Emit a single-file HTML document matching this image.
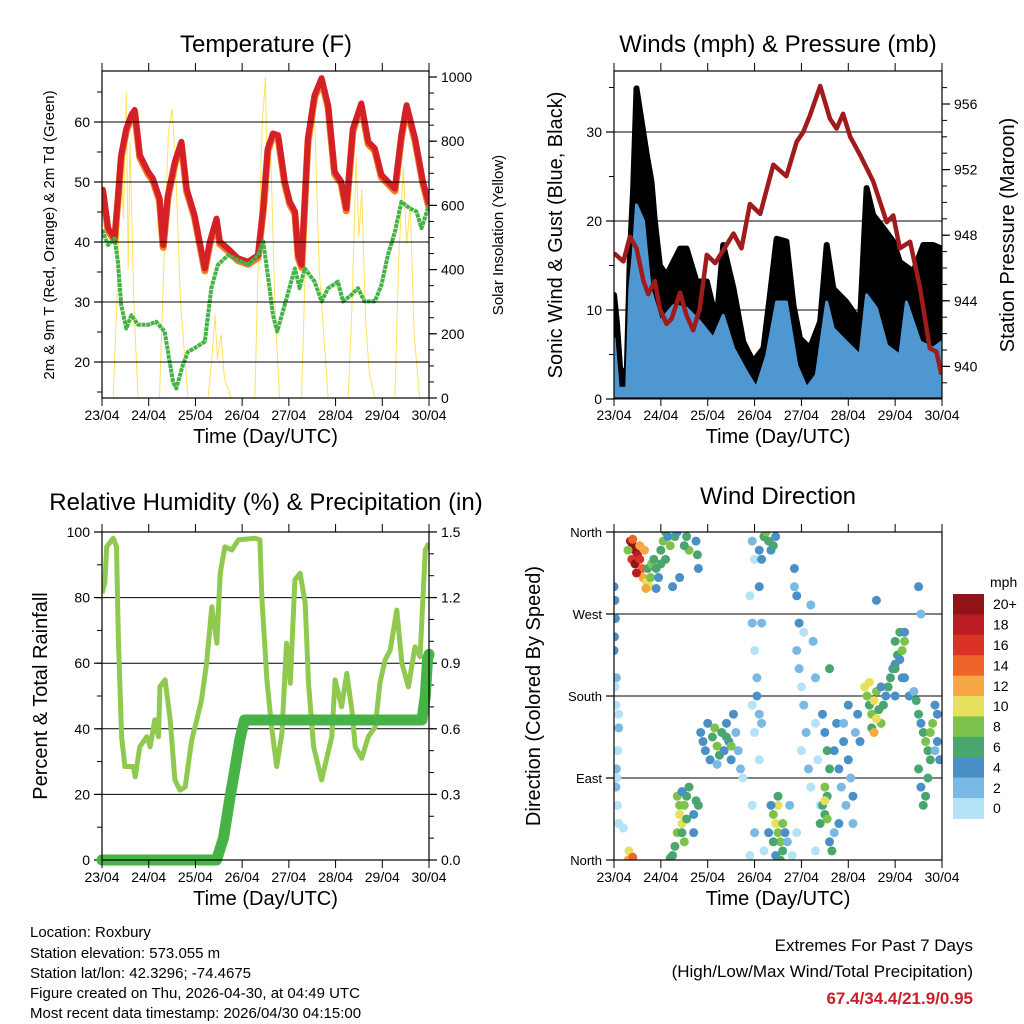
<!DOCTYPE html>
<html><head><meta charset="utf-8"><style>
body{margin:0;background:#fff}
svg{display:block;font-family:"Liberation Sans",sans-serif}
</style></head><body>
<svg id="s" width="1024" height="1024" viewBox="0 0 1024 1024">
<defs>
<clipPath id="c1"><rect x="102" y="71" width="327" height="327"/></clipPath>
<clipPath id="c2"><rect x="614" y="71" width="328" height="327"/></clipPath>
<clipPath id="c3"><rect x="102" y="532" width="327" height="328"/></clipPath>
<clipPath id="c4"><rect x="614" y="532" width="328" height="328"/></clipPath>
</defs>
<g id="g1"></g>
<g id="g2"></g>
<g id="g3"></g>
<g id="g4"></g>
<g font-size="15" fill="#000">
<text x="30" y="937">Location: Roxbury</text>
<text x="30" y="958">Station elevation: 573.055 m</text>
<text x="30" y="978">Station lat/lon: 42.3296; -74.4675</text>
<text x="30" y="998">Figure created on Thu, 2026-04-30, at 04:49 UTC</text>
<text x="30" y="1018">Most recent data timestamp: 2026/04/30 04:15:00</text>
</g>
<g text-anchor="end">
<text x="973" y="951" font-size="17">Extremes For Past 7 Days</text>
<text x="973" y="977" font-size="17">(High/Low/Max Wind/Total Precipitation)</text>
<text x="973" y="1004" font-size="17" font-weight="bold" fill="#c8202a">67.4/34.4/21.9/0.95</text>
</g>
</svg>
<script>
const dayLabels=["23/04","24/04","25/04","26/04","27/04","28/04","29/04","30/04"];
const tempDays=[0,0.02,0.13,0.27,0.34,0.41,0.52,0.63,0.70,0.81,0.99,1.09,1.23,1.31,1.41,1.56,1.70,1.81,1.98,2.20,2.31,2.45,2.52,2.70,2.91,3.13,3.34,3.45,3.55,3.66,3.77,3.91,4.02,4.13,4.20,4.27,4.41,4.55,4.70,4.84,4.98,5.12,5.23,5.37,5.55,5.70,5.84,5.98,6.27,6.41,6.52,6.70,6.87,7.0];
const tempVals=[47.8,48.7,42.3,40.6,47.3,54.5,58.9,61.2,62.0,54.5,51.7,50.6,47.3,39.5,47.8,53.4,56.7,48.9,44.5,35.6,40.1,43.9,40.1,38.9,37.3,36.7,37.8,45.6,55.6,58.1,57.8,50.1,46.7,45.1,37.8,36.2,57.3,64.5,67.3,62.8,51.7,50.1,45.6,58.9,63.1,56.7,55.6,51.2,48.9,57.8,62.8,57.3,50.1,46.2];
const dewDays=[0,0.13,0.27,0.34,0.41,0.52,0.63,0.77,0.99,1.16,1.34,1.52,1.59,1.73,1.84,1.98,2.20,2.34,2.48,2.70,2.91,3.13,3.34,3.45,3.55,3.66,3.75,3.91,4.05,4.13,4.23,4.34,4.55,4.70,4.84,5.05,5.16,5.34,5.48,5.62,5.84,5.98,6.12,6.27,6.41,6.59,6.73,6.84,7.0];
const dewVals=[42.0,39.5,40.6,36.7,29.5,25.6,27.8,26.2,26.2,26.7,25.1,16.7,15.6,19.5,21.7,22.3,23.4,32.3,36.2,37.8,37.0,36.2,37.8,40.1,34.5,27.8,25.1,29.5,33.4,35.6,32.3,35.6,33.4,30.1,32.3,33.4,30.1,31.2,32.3,30.1,30.1,32.8,37.8,41.7,46.7,45.6,45.1,42.3,46.2];
const solarDays=[0.24,0.32,0.4,0.46,0.52,0.56,0.6,0.68,0.77,1.0,1.23,1.32,1.42,1.5,1.58,1.68,1.84,2.0,2.27,2.35,2.42,2.47,2.55,2.62,2.77,3.0,3.27,3.35,3.43,3.5,3.54,3.6,3.7,3.8,4.0,4.27,4.36,4.45,4.55,4.65,4.84,5.0,5.27,5.36,5.44,5.5,5.56,5.64,5.72,5.84,6.0,6.27,6.35,6.45,6.52,6.6,6.68,6.8];
const solarVals=[0,300,750,560,950,400,800,300,0,0,0,400,820,900,700,300,0,0,0,120,260,120,200,60,0,0,0,450,850,1000,600,820,300,0,0,0,450,760,880,400,0,0,0,320,750,500,650,250,80,0,0,0,420,720,480,600,200,0];
const gustDays=[0,0.06,0.13,0.27,0.34,0.41,0.48,0.59,0.70,0.80,0.87,0.98,1.12,1.41,1.55,1.76,1.98,2.19,2.33,2.55,2.76,2.97,3.19,3.33,3.47,3.68,3.83,3.97,4.18,4.40,4.54,4.68,4.96,5.25,5.39,5.53,5.75,5.96,6.10,6.39,6.60,6.81,6.99];
const gustVals=[11.7,8.7,3.4,2.7,16.2,23.7,34.9,31.2,27.4,24.4,20.0,15.0,13.9,16.9,16.9,13.2,13.2,8.7,17.3,12.4,6.4,4.2,5.7,11.7,18.0,17.7,10.5,6.8,5.7,8.7,17.3,12.4,10.9,8.7,23.7,20.7,19.2,17.7,15.4,14.3,17.3,17.3,16.9];
const speedHiDays=[0,0.09,0.27,0.34,0.41,0.48,0.63,0.77,0.98,1.27,1.55,1.83,2.12,2.33,2.55,2.83,3.04,3.26,3.47,3.68,3.90,4.11,4.32,4.54,4.68,4.96,5.25,5.39,5.60,5.82,6.10,6.24,6.53,6.81,6.99];
const speedHiVals=[6.8,1.2,1.2,12.4,16.2,21.8,20.0,12.4,8.7,10.5,10.2,8.7,6.8,9.4,5.7,3.0,1.2,4.9,10.9,10.9,3.8,1.2,2.7,10.9,7.9,6.4,4.9,11.7,10.2,6.0,4.9,10.9,6.4,5.7,6.4];
const presDays=[0,0.20,0.34,0.48,0.63,0.73,0.87,0.98,1.12,1.23,1.41,1.55,1.69,1.83,1.98,2.16,2.40,2.55,2.72,2.90,3.12,3.40,3.68,3.90,4.04,4.18,4.40,4.61,4.75,4.89,5.04,5.25,5.53,5.82,5.96,6.10,6.32,6.53,6.74,6.88,6.99];
const presVals=[946.9,946.4,947.9,947.2,945.2,944.4,945.2,943.5,942.6,942.9,944.5,943.1,942.2,943.5,946.8,946.3,947.4,948.1,947.2,949.9,949.3,952.3,951.6,953.7,954.3,955.3,957.1,955.1,954.5,955.4,954.0,952.9,951.3,948.8,949.2,947.2,947.6,944.8,941.1,940.9,939.5];
const rhDays=[0,0.06,0.10,0.24,0.31,0.35,0.42,0.49,0.67,0.71,0.81,0.96,1.03,1.13,1.21,1.24,1.35,1.46,1.56,1.67,1.78,1.92,2.03,2.13,2.24,2.35,2.46,2.53,2.63,2.78,2.92,3.28,3.38,3.42,3.53,3.63,3.74,3.85,3.95,4.03,4.13,4.24,4.35,4.42,4.53,4.70,4.92,4.99,5.13,5.24,5.35,5.42,5.56,5.70,5.85,5.95,6.06,6.17,6.31,6.42,6.56,6.70,6.81,6.92,7.0];
const rhVals=[81.3,84.4,95.5,98.1,95.5,68.1,37.6,28.5,28.5,25.4,34.5,37.6,34.5,42.7,37.6,52.8,54.9,42.7,24.4,21.3,22.3,36.6,42.7,48.8,60.0,77.2,66.1,87.4,95.5,94.5,97.6,98.1,97.6,80.3,54.9,40.6,28.5,38.6,66.1,53.9,85.4,87.4,78.3,53.9,34.5,24.4,37.6,54.9,46.7,56.9,45.7,34.5,31.0,37.6,40.6,53.9,61.0,64.0,76.2,60.0,52.8,65.0,62.0,94.5,96.6];
const precipDays=[0,2.45,2.6,2.75,2.85,2.95,3.05,6.85,6.92,6.97,7.0];
const precipVals=[0,0,0.1,0.3,0.42,0.55,0.64,0.64,0.75,0.92,0.94];
const dirDays=[0.35,0.4,0.45,0.5,0.38,0.45,0.55,0.6,0.62,0.48,0.7,0.75,0.55,0.3,0.65,0.72,0.8,0.85,0.9,0.78,0.68,0.4,
1.0,1.05,1.1,1.15,1.0,0.95,1.1,1.2,1.25,1.3,1.35,1.75,1.78,1.8,0.9,1.55,1.6,1.4,1.5,
0.0,0.02,0.03,0.01,0.0,0.05,0.1,0.1,0.08,0.05,0.06,0.04,0.07,0.1,0.2,0.3,0.32,0.4,0.02,0.04,
1.85,1.9,1.95,2.0,2.05,2.1,2.15,2.2,2.25,2.3,2.35,2.4,2.45,2.5,2.55,2.6,2.65,2.7,2.75,2.5,2.4,2.2,
1.25,1.3,1.35,1.4,1.45,1.5,1.55,1.6,1.5,1.45,1.4,1.7,1.75,1.8,1.35,1.45,1.7,1.2,1.55,
2.95,3.0,2.9,2.95,3.0,3.05,2.95,3.0,3.1,2.95,3.0,2.9,3.1,3.15,3.2,3.25,3.3,3.35,3.4,3.45,3.1,3.15,3.05,3.1,3.15,
3.3,3.4,3.45,3.5,3.5,3.55,3.6,3.4,3.45,3.6,3.65,3.5,3.35,3.55,3.7,3.2,3.8,3.9,3.75,
3.85,3.9,3.95,3.9,3.95,4.0,4.05,4.1,4.0,4.15,4.05,4.2,4.25,3.85,4.3,4.3,4.2,4.3,4.4,4.35,
4.4,4.45,4.5,4.55,4.5,4.6,4.55,4.5,4.45,4.6,4.65,4.7,4.75,4.8,4.85,4.9,4.95,4.8,4.9,4.7,5.0,5.05,5.1,5.15,5.1,5.2,5.25,5.0,4.5,4.55,
5.35,5.4,5.45,5.5,5.55,5.6,5.65,5.7,5.5,5.45,5.6,5.55,5.75,5.8,5.85,5.9,5.95,6.0,6.05,6.1,6.15,6.2,6.1,6.2,6.0,6.3,6.4,6.15,5.7,
6.45,6.5,6.55,6.6,6.65,6.7,6.75,6.8,6.85,6.9,6.95,6.7,6.65,6.6,6.75,6.85,6.9,6.5,6.55,
5.6,4.6,6.0,6.5,6.55,6.0,6.2];
const dirVals=[350,345,340,335,330,325,330,320,310,315,305,300,345,340,340,320,325,330,320,310,298,352,
340,350,360,355,325,310,330,345,300,355,360,350,335,320,298,355,340,310,345,
300,285,265,245,230,200,160,145,120,100,90,80,60,40,35,0,10,3,190,170,
140,130,120,150,110,135,145,125,115,140,120,150,130,110,160,140,120,100,90,125,135,105,
5,15,30,50,40,60,70,80,20,30,60,50,65,60,70,75,30,2,45,
350,330,290,260,230,200,170,140,110,60,30,5,340,330,355,360,350,340,345,355,300,260,180,160,150,
30,50,40,30,60,20,10,20,5,40,30,70,60,0,20,10,5,30,60,
320,290,260,230,210,190,170,140,120,100,250,280,240,300,200,150,80,10,60,110,
40,60,80,70,50,100,120,140,160,20,10,120,150,100,80,130,60,40,150,30,110,90,70,140,40,160,130,170,65,45,
190,180,170,160,175,185,165,150,145,195,155,140,170,180,190,200,210,215,225,220,230,240,250,250,180,180,185,200,190,
175,160,150,140,130,120,110,150,170,130,110,90,70,60,140,120,160,100,80,
285,210,210,300,270,240,200];
const dirSpeeds=[18,20,20,18,16,20,16,14,12,18,10,10,12,8,12,6,8,6,6,8,12,14,
6,8,6,4,6,4,6,8,4,6,4,4,6,4,4,6,8,4,6,
4,4,4,4,4,2,1,2,1,2,1,2,1,0,0,12,10,14,1,1,
4,4,4,4,4,6,8,8,6,6,4,4,4,4,4,2,2,2,1,8,6,2,
6,6,8,10,10,8,6,6,8,6,8,4,6,6,8,4,4,6,6,
2,1,1,2,1,2,1,1,1,1,2,1,4,4,6,8,6,4,6,4,4,2,4,2,2,
4,8,10,8,10,8,6,6,4,8,4,6,4,6,2,1,1,1,2,
4,4,4,2,2,1,2,2,1,2,1,2,2,2,2,1,1,1,1,1,
6,6,8,6,6,6,6,4,4,4,6,4,4,4,2,4,2,4,2,2,4,2,4,2,2,4,4,4,10,8,
10,8,6,8,10,8,6,8,6,10,10,12,6,4,6,6,4,4,6,4,8,8,6,4,4,4,2,4,4,
6,6,4,6,8,6,6,8,4,4,4,6,6,6,8,2,4,6,4,
4,6,6,4,2,6,4];
const speedBins=["0","2","4","6","8","10","12","14","16","18","20+"];
const binColors=["#b4e2f7","#7ab9e4","#4a90c7","#4aa66f","#7dc24c","#e6e05c","#f7a845","#f0632a","#da3227","#bb1b22","#8e1418"];

const NS="http://www.w3.org/2000/svg";
function mk(parent,tag,attrs,txt){const e=document.createElementNS(NS,tag);for(const k in attrs)e.setAttribute(k,attrs[k]);if(txt!==undefined)e.textContent=txt;parent.appendChild(e);return e;}
function poly(xs,ys,fx,fy){return xs.map((d,i)=>fx(d).toFixed(1)+","+fy(ys[i]).toFixed(1)).join(" ");}

function frame(g,P){
  const {x0,x1,y0,y1}=P;
  const fx=d=>x0+d/7*(x1-x0);
  for(let i=0;i<=7;i++){
    const x=fx(i);
    const t1=mk(g,"line",{x1:x,y1:y1,x2:x,y2:y1+8,stroke:"#000","stroke-width":1});
    
    
    mk(g,"line",{x1:x,y1:y0,x2:x,y2:y0-8,stroke:"#000","stroke-width":1});
    const lb=mk(g,"text",{x:x,y:y1+22,"font-size":14,"text-anchor":"middle"},dayLabels[i]);
    
    
  }
  mk(g,"rect",{x:x0,y:y0,width:x1-x0,height:y1-y0,fill:"none",stroke:"#000","stroke-width":1.2});
  const tt=mk(g,"text",{x:(x0+x1)/2,y:y1+45,"font-size":20,"text-anchor":"middle"},"Time (Day/UTC)");
  
  
  return fx;
}
function yaxis(g,P,side,vals,labels,minors,fy,grid,fs){
  const {x0,x1}=P;
  const xa=side==="L"?x0:x1, dir=side==="L"?-1:1;
  minors.forEach(v=>{const y=fy(v);mk(g,"line",{x1:xa,y1:y,x2:xa+dir*5,y2:y,stroke:"#000","stroke-width":1});});
  vals.forEach((v,i)=>{
    const y=fy(v);
    mk(g,"line",{x1:xa,y1:y,x2:xa+dir*8,y2:y,stroke:"#000","stroke-width":1.2});
    if(grid) mk(g,"line",{x1:x0,y1:y,x2:x1,y2:y,stroke:"#000","stroke-width":1});
    const t=mk(g,"text",{x:xa+dir*12,y:y+5,"font-size":fs||14,"text-anchor":side==="L"?"end":"start"},labels[i]);
    
    
  });
}
function title(g,x,y,s,name){const t=mk(g,"text",{x:x,y:y,"font-size":24,"text-anchor":"middle"},s);}
function vtitle(g,x,y,s,fs,name){const t=mk(g,"text",{x:0,y:0,"font-size":fs,"text-anchor":"middle",transform:`translate(${x},${y}) rotate(-90)`},s);}
function range(a,b,s){const r=[];for(let v=a;v<=b+1e-9;v+=s)r.push(+v.toFixed(3));return r;}

(function(){
  const g=document.getElementById("g1");const P={x0:102,x1:429,y0:71,y1:398};
  const fy=T=>398-(T-14)*6.0, fs=v=>398-v*0.321;
  const fx=d=>P.x0+d/7*(P.x1-P.x0);
  const c=mk(g,"g",{"clip-path":"url(#c1)"});
  yaxis(g,P,"L",[20,30,40,50,60],["20","30","40","50","60"],range(15,65,5),fy,true);
  yaxis(g,P,"R",[0,200,400,600,800,1000],["0","200","400","600","800","1000"],range(0,1000,50),fs,false);
  const s=mk(c,"polyline",{points:poly(solarDays,solarVals,fx,fs),fill:"none",stroke:"#ffe25b","stroke-width":1});
  
  const o=mk(c,"polyline",{points:poly(tempDays,tempVals.map(v=>v-0.4),fx,fy),fill:"none",stroke:"#f47b20","stroke-width":7,"stroke-linejoin":"round"});
  
  const r=mk(c,"polyline",{points:poly(tempDays,tempVals,fx,fy),fill:"none",stroke:"#d42027","stroke-width":6,"stroke-linejoin":"round"});
  
  const d=mk(c,"polyline",{points:poly(dewDays,dewVals,fx,fy),fill:"none",stroke:"#45b245","stroke-width":4,"stroke-dasharray":"4 0.7","stroke-linejoin":"round"});
  
  frame(g,P);
  title(g,266,52,"Temperature (F)","temperature-title");
  vtitle(g,54,235,"2m & 9m T (Red, Orange) & 2m Td (Green)",15,"temperature-y-title");
  vtitle(g,503,235,"Solar Insolation (Yellow)",15,"solar-y-title");
})();
(function(){
  const g=document.getElementById("g2");const P={x0:614,x1:942,y0:71,y1:398};
  const fx=d=>P.x0+d/7*(P.x1-P.x0);
  const fy=v=>399-v*8.9, fp=p=>104+(956-p)*16.4;
  yaxis(g,P,"L",[0,10,20,30],["0","10","20","30"],range(5,35,5),fy,true);
  yaxis(g,P,"R",[940,944,948,952,956],["940","944","948","952","956"],range(939,957,1),fp,false);
  const c=mk(g,"g",{"clip-path":"url(#c2)"});
  const base=fx(7).toFixed(1)+","+fy(0)+" "+fx(0).toFixed(1)+","+fy(0);
  const ga=mk(c,"polygon",{points:poly(gustDays,gustVals,fx,fy)+" "+base,fill:"#000",stroke:"#000","stroke-width":6,"stroke-linejoin":"round"});
  
  const sa=mk(c,"polygon",{points:poly(speedHiDays,speedHiVals,fx,fy)+" "+base,fill:"#4f97d0",stroke:"#4f97d0","stroke-width":3,"stroke-linejoin":"round"});
  
  const pl=mk(c,"polyline",{points:poly(presDays,presVals,fx,fp),fill:"none",stroke:"#a01c1c","stroke-width":4.5,"stroke-linejoin":"round"});
  
  frame(g,P);
  title(g,778,52,"Winds (mph) & Pressure (mb)","winds-title");
  vtitle(g,562,235,"Sonic Wind & Gust (Blue, Black)",20,"wind-y-title");
  vtitle(g,1014,235,"Station Pressure (Maroon)",20,"pressure-y-title");
})();
(function(){
  const g=document.getElementById("g3");const P={x0:102,x1:429,y0:532,y1:860};
  const fx=d=>P.x0+d/7*(P.x1-P.x0);
  const fy=v=>860-v*3.28, fp=p=>860-p*218.7;
  yaxis(g,P,"L",[0,20,40,60,80,100],["0","20","40","60","80","100"],range(10,90,10),fy,true);
  yaxis(g,P,"R",[0,0.3,0.6,0.9,1.2,1.5],["0.0","0.3","0.6","0.9","1.2","1.5"],range(0,1.5,0.1),fp,false);
  const c=mk(g,"g",{"clip-path":"url(#c3)"});
  const rh=mk(c,"polyline",{points:poly(rhDays,rhVals,fx,fy),fill:"none",stroke:"#90c94f","stroke-width":5,"stroke-linejoin":"round"});
  
  const pr=mk(g,"polyline",{points:poly(precipDays,precipVals,fx,fp),fill:"none",stroke:"#47b347","stroke-width":11,"stroke-linejoin":"round","stroke-linecap":"round"});
  
  frame(g,P);
  title(g,266,510,"Relative Humidity (%) & Precipitation (in)","humidity-title");
  vtitle(g,47,696,"Percent & Total Rainfall",20,"humidity-y-title");
})();
(function(){
  const g=document.getElementById("g4");const P={x0:614,x1:942,y0:532,y1:860};
  const fx=d=>P.x0+d/7*(P.x1-P.x0);
  const fy=v=>860-v*328/360;
  yaxis(g,P,"L",[0,90,180,270,360],["North","East","South","West","North"],[],fy,true,13);
  const c=mk(g,"g",{"clip-path":"url(#c4)"});
  dirDays.forEach((d,i)=>{
    const b=Math.min(10,Math.floor(dirSpeeds[i]/2));
    const e=mk(c,"circle",{cx:fx(d),cy:fy(dirVals[i]),r:4.5,fill:binColors[b]});
    
    
  });
  frame(g,P);
  title(g,778,504,"Wind Direction","direction-title");
  vtitle(g,540,696,"Direction (Colored By Speed)",20,"direction-y-title");
  const lg=mk(g,"g",{});
  
  
  mk(lg,"text",{x:990,y:587,"font-size":14},"mph");
  const top=594,h=20.4;
  for(let k=0;k<11;k++){
    const idx=10-k;
    const r=mk(lg,"rect",{x:953,y:top+k*h,width:31,height:h+0.5,fill:binColors[idx]});
    
    
    mk(lg,"text",{x:993,y:top+k*h+h/2+5,"font-size":14},speedBins[idx]);
  }
})();
</script>
</body></html>
